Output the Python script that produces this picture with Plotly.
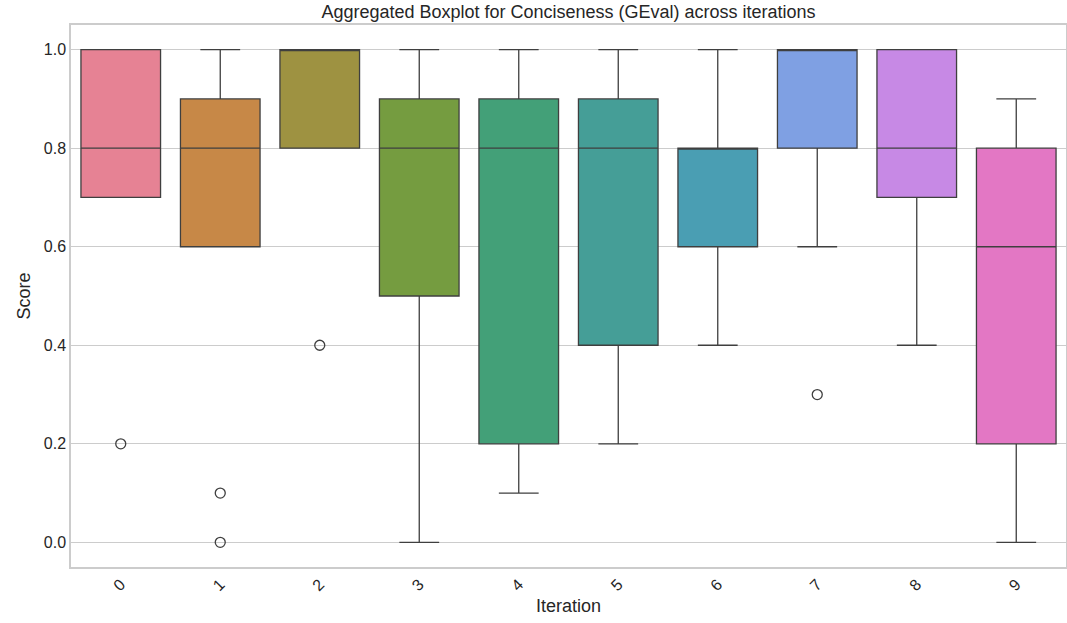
import colorsys
import plotly.graph_objects as go

iterations = ["0", "1", "2", "3", "4", "5", "6", "7", "8", "9"]
q1 = [0.7, 0.6, 0.8, 0.5, 0.2, 0.4, 0.6, 0.8, 0.7, 0.2]
median = [0.8, 0.8, 1.0, 0.8, 0.8, 0.8, 0.8, 1.0, 0.8, 0.6]
q3 = [1.0, 0.9, 1.0, 0.9, 0.9, 0.9, 0.8, 1.0, 1.0, 0.8]
lower_whisker = [0.7, 0.6, 0.8, 0.0, 0.1, 0.2, 0.4, 0.6, 0.4, 0.0]
upper_whisker = [1.0, 1.0, 1.0, 1.0, 1.0, 1.0, 1.0, 1.0, 1.0, 0.9]
outlier_iter = ["0", "1", "1", "2", "7"]
outlier_vals = [0.2, 0.1, 0.0, 0.4, 0.3]

base_palette = ['#f77189', '#dc8932', '#ae9d31', '#77ab31', '#33b07a',
                '#36ada4', '#38a9c5', '#6e9bf4', '#cc7af4', '#f565cc']


def desat(hx, prop=0.75):
    r, g, b = (int(hx[i:i + 2], 16) / 255 for i in (1, 3, 5))
    h, l, s = colorsys.rgb_to_hls(r, g, b)
    r, g, b = colorsys.hls_to_rgb(h, l, s * prop)
    return "#%02x%02x%02x" % (round(r * 255), round(g * 255), round(b * 255))


colors = [desat(c) for c in base_palette]
edge = "#3f3f3f"
font = "Liberation Sans, Arial, sans-serif"
txt = "#262626"

fig = go.Figure()
for i, it in enumerate(iterations):
    fig.add_trace(go.Box(
        x=[it], q1=[q1[i]], median=[median[i]], q3=[q3[i]],
        lowerfence=[lower_whisker[i]], upperfence=[upper_whisker[i]],
        width=0.8, whiskerwidth=0.5,
        fillcolor=colors[i], line=dict(color=edge, width=1.3),
        boxpoints=False, showlegend=False, hoverinfo="y",
    ))

fig.add_trace(go.Scatter(
    x=outlier_iter, y=outlier_vals, mode="markers",
    marker=dict(symbol="circle-open", size=10, color=edge, line=dict(width=1.3)),
    showlegend=False,
))

fig.update_layout(
    width=1067, height=623,
    paper_bgcolor="white", plot_bgcolor="white",
    margin=dict(l=71, r=1, t=25, b=56, autoexpand=False),
    font=dict(family=font, size=16, color=txt),
    title=dict(text="Aggregated Boxplot for Conciseness (GEval) across iterations",
               x=0.5, xref="paper", xanchor="center", y=1 - 12 / 623, yref="container",
               yanchor="middle", font=dict(size=18, color=txt)),
    boxmode="overlay",
)
fig.update_xaxes(
    type="category", categoryorder="array", categoryarray=iterations,
    range=[-0.5, 9.5], tickangle=-45, showgrid=False, automargin=False,
    showline=True, linecolor="#cccccc", linewidth=1.5, mirror=True,
    ticks="", ticklen=0, tickfont=dict(size=16),
    title=dict(text="Iteration", font=dict(size=18, color=txt), standoff=6),
)
fig.update_yaxes(
    range=[-0.05, 1.05], tickvals=[0, 0.2, 0.4, 0.6, 0.8, 1.0], automargin=False,
    tickformat=".1f", showgrid=True, gridcolor="#cccccc", gridwidth=1,
    zeroline=False, showline=True, linecolor="#cccccc", linewidth=1.5, mirror=True,
    ticks="", tickfont=dict(size=16),
    title=dict(text="Score", font=dict(size=18, color=txt), standoff=8),
)

fig.write_html(
    "out.html",
    config={"displayModeBar": False},
    post_script="document.body.style.margin='0';document.body.style.overflow='hidden';",
)
